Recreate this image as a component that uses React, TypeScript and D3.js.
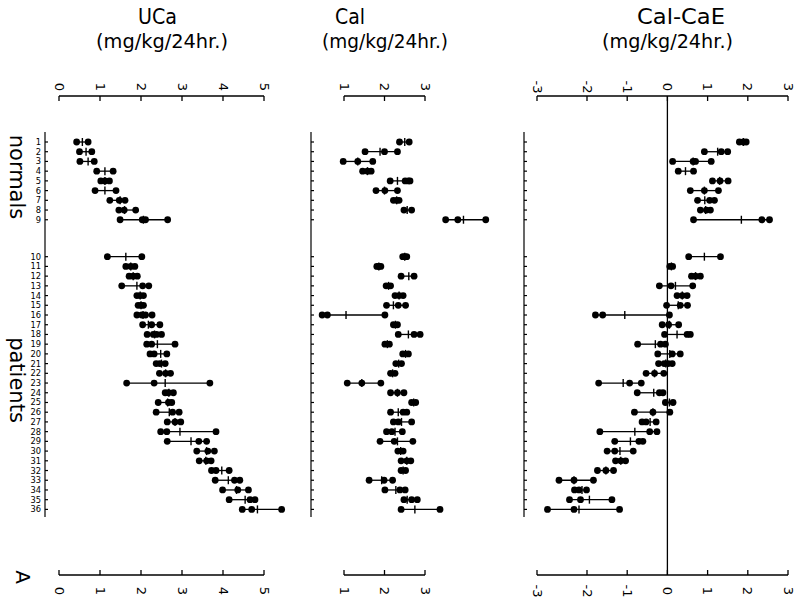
import React from "react";
import * as d3 from "d3";

const rowLabels = Array.from({ length: 36 }, (_, i) => String(i + 1));

const ucaPoints: number[][] = [
  [0.43, 0.71], [0.5, 0.8], [0.51, 0.86], [0.92, 1.32], [1.02, 1.12, 1.23],
  [0.88, 1.39], [1.24, 1.47, 1.61], [1.46, 1.59, 1.87], [1.49, 2.03, 2.11, 2.65],
  [1.18, 2.02], [1.63, 1.75, 1.85], [1.71, 1.81, 1.91], [1.53, 2.04, 2.19],
  [1.9, 1.98, 2.06], [1.93, 2.0, 2.06], [1.9, 2.02, 2.11, 2.27], [2.04, 2.26, 2.46],
  [2.15, 2.3, 2.38, 2.5], [2.14, 2.26, 2.83], [2.22, 2.32, 2.63], [2.37, 2.46, 2.59],
  [2.45, 2.6, 2.72], [1.65, 2.32, 3.68], [2.59, 2.67, 2.79], [2.42, 2.67, 2.75],
  [2.37, 2.77, 2.93], [2.64, 2.83, 2.97], [2.48, 2.63, 3.83], [2.64, 3.41, 3.6],
  [3.36, 3.63, 3.79], [3.42, 3.6, 3.71], [3.72, 3.83, 4.15], [3.81, 4.28, 4.41],
  [3.99, 4.36, 4.62], [4.15, 4.66, 4.78], [4.47, 4.7, 5.43],
];
const ucaMeans: number[] = [
  0.57, 0.66, 0.71, 1.12, 1.12, 1.12, 1.49, 1.6, 2.06,
  1.63, 1.75, 1.81, 1.9, 1.98, 2.0, 2.05, 2.18, 2.33, 2.4, 2.48, 2.5, 2.6, 2.59,
  2.68, 2.65, 2.69, 2.83, 2.95, 3.22, 3.6, 3.58, 3.97, 4.13, 4.33, 4.54, 4.84,
];

const calPoints: number[][] = [
  [2.37, 2.61], [1.52, 2.0, 2.32], [0.98, 1.34, 1.71], [1.46, 1.58, 1.67],
  [2.14, 2.51, 2.59, 2.63], [1.79, 2.01, 2.32], [2.22, 2.3, 2.36], [2.48, 2.67],
  [3.51, 3.81, 4.5], [2.45, 2.5, 2.55], [1.81, 1.86, 1.91], [2.41, 2.73],
  [2.04, 2.15], [2.26, 2.36, 2.46], [2.05, 2.34, 2.52], [0.46, 0.59, 2.01],
  [2.22, 2.32], [2.34, 2.73, 2.88], [2.01, 2.12], [2.45, 2.59], [2.28, 2.42],
  [2.15, 2.26], [1.08, 1.44, 1.91], [2.15, 2.32, 2.48], [2.67, 2.77],
  [2.15, 2.46, 2.55], [2.22, 2.34, 2.67], [2.05, 2.18, 2.44], [1.89, 2.24, 2.7],
  [2.33, 2.46], [2.41, 2.55, 2.65], [2.41, 2.52], [1.62, 1.99, 2.2],
  [2.01, 2.38, 2.51], [2.48, 2.67, 2.81], [2.41, 3.37],
];
const calMeans: number[] = [
  2.5, 1.89, 1.34, 1.58, 2.32, 2.0, 2.3, 2.56, 3.95,
  2.5, 1.86, 2.6, 2.1, 2.36, 2.22, 1.05, 2.27, 2.59, 2.07, 2.52, 2.35, 2.2, 1.44,
  2.32, 2.72, 2.34, 2.42, 2.26, 2.32, 2.4, 2.55, 2.46, 1.93, 2.28, 2.56, 2.75,
];

const diffPoints: number[][] = [
  [1.79, 1.89, 1.96], [0.92, 1.34, 1.5], [0.13, 0.64, 0.7, 1.09], [0.27, 0.65],
  [1.12, 1.31, 1.51], [0.57, 0.92, 1.27], [0.75, 1.05, 1.17], [0.82, 0.97, 1.07],
  [0.65, 2.35, 2.54], [0.53, 1.32], [0.06, 0.13], [0.6, 0.7, 0.82],
  [-0.2, 0.09, 0.63], [0.24, 0.37, 0.49], [-0.02, 0.32, 0.5], [-1.79, -1.61, 0.05],
  [-0.13, 0.03, 0.28], [-0.07, 0.49, 0.57], [-0.74, -0.17, -0.05], [-0.24, 0.12, 0.32],
  [-0.22, -0.08, 0.02, 0.12], [-0.53, -0.32, -0.09], [-1.71, -0.94, -0.65],
  [-0.75, -0.2, -0.11], [-0.05, 0.14], [-0.82, -0.36, 0.06], [-0.63, -0.53, -0.28],
  [-1.68, -0.44, -0.26], [-1.31, -0.71, -0.61], [-1.5, -1.31, -0.85],
  [-1.29, -1.16, -1.04], [-1.74, -1.53, -1.34], [-2.56, -2.26, -1.84],
  [-2.25, -2.16, -2.01], [-2.35, -2.13, -1.38], [-2.79, -2.26, -1.19],
];
const diffMeans: number[] = [
  1.89, 1.25, 0.64, 0.45, 1.3, 0.92, 0.93, 0.95, 1.84,
  0.92, 0.1, 0.7, 0.2, 0.37, 0.27, -1.06, 0.05, 0.24, -0.3, 0.06, -0.04, -0.32, -1.1,
  -0.34, 0.05, -0.36, -0.43, -0.81, -0.92, -1.18, -1.16, -1.53, -2.26, -2.1, -1.94, -2.16,
];

const ucaTicks = [0, 1, 2, 3, 4, 5];
const calTicks = [1, 2, 3];
const diffTicks = [-3, -2, -1, 0, 1, 2, 3];

const FONT = "'DejaVu Sans', 'Noto Sans', sans-serif";

// row position with gap between normals and patients
const rowPos = (i: number) => i + (i >= 9 ? 2.8 : 0);
const y = d3.scaleLinear().domain([0, 37.8]).range([142, 509.4]);

const xUca = d3.scaleLinear().domain([0, 5]).range([59, 264]);
const xCal = d3.scaleLinear().domain([1, 3]).range([344, 425]);
const xDiff = d3.scaleLinear().domain([-3, -2, 3]).range([537, 587, 788]);

const AXIS_TOP = 96;
const AXIS_BOTTOM = 575;

function Axis({ scale, ticks, top }: { scale: any; ticks: number[]; top: boolean }) {
  const ay = top ? AXIS_TOP : AXIS_BOTTOM;
  const dir = top ? 1 : -1;
  const ly = top ? 87 : 591;
  return (
    <g>
      <line x1={scale(ticks[0])} x2={scale(ticks[ticks.length - 1])} y1={ay} y2={ay} stroke="#000" strokeWidth={1.3} />
      {ticks.map((t) => (
        <g key={t}>
          <line x1={scale(t)} x2={scale(t)} y1={ay} y2={ay + dir * 5} stroke="#000" strokeWidth={1.3} />
          <text
            transform={`translate(${scale(t)},${ly}) rotate(90)`}
            textAnchor="middle"
            dominantBaseline="central"
            fontSize={13}
            fontFamily={FONT}
            fill="#000"
          >
            {String(t)}
          </text>
        </g>
      ))}
    </g>
  );
}

function RowAxis({ x }: { x: number }) {
  return (
    <g>
      <line x1={x} x2={x} y1={132} y2={517} stroke="#000" strokeWidth={1.2} />
      {rowLabels.map((_, i) => (
        <line key={i} x1={x} x2={x + 3} y1={y(rowPos(i))} y2={y(rowPos(i))} stroke="#000" strokeWidth={1.2} />
      ))}
    </g>
  );
}

function Series({ scale, points, means }: { scale: any; points: number[][]; means: number[] }) {
  return (
    <g>
      {points.map((pts, i) => {
        const yy = y(rowPos(i));
        const lo = d3.min(pts) as number;
        const hi = d3.max(pts) as number;
        return (
          <g key={i}>
            <line x1={scale(lo)} x2={scale(hi)} y1={yy} y2={yy} stroke="#000" strokeWidth={1.3} />
            <line x1={scale(means[i])} x2={scale(means[i])} y1={yy - 4} y2={yy + 4} stroke="#000" strokeWidth={1.4} />
            {pts.map((p, j) => (
              <circle key={j} cx={scale(p)} cy={yy} r={3.4} fill="#000" />
            ))}
          </g>
        );
      })}
    </g>
  );
}

function Title({ x, y: ty, text, len, size }: { x: number; y: number; text: string; len: number; size: number }) {
  return (
    <text x={x} y={ty} fontSize={size} fontFamily={FONT} textLength={len} lengthAdjust="spacingAndGlyphs" fill="#000">
      {text}
    </text>
  );
}

export default function App() {
  return (
    <>
      <style>{`body{margin:0;background:#fff}`}</style>
      <svg width={800} height={609} viewBox="0 0 800 609" style={{ display: "block", background: "#fff" }}>
        <Title x={138} y={24} text="UCa" len={39} size={22} />
        <Title x={96} y={48} text="(mg/kg/24hr.)" len={132} size={20} />
        <Title x={335} y={24} text="Cal" len={30} size={22} />
        <Title x={322} y={48} text="(mg/kg/24hr.)" len={126} size={20} />
        <Title x={637} y={24} text="Cal-CaE" len={88} size={22} />
        <Title x={602} y={48} text="(mg/kg/24hr.)" len={131} size={20} />

        <Axis scale={xUca} ticks={ucaTicks} top />
        <Axis scale={xUca} ticks={ucaTicks} top={false} />
        <Axis scale={xCal} ticks={calTicks} top />
        <Axis scale={xCal} ticks={calTicks} top={false} />
        <Axis scale={xDiff} ticks={diffTicks} top />
        <Axis scale={xDiff} ticks={diffTicks} top={false} />

        <line x1={xDiff(0)} x2={xDiff(0)} y1={AXIS_TOP} y2={AXIS_BOTTOM} stroke="#000" strokeWidth={1.3} />

        <RowAxis x={45} />
        <RowAxis x={311} />
        <RowAxis x={524} />

        {rowLabels.map((l, i) => (
          <text key={l} x={41} y={y(rowPos(i))} textAnchor="end" dominantBaseline="central" fontSize={8.3} fontFamily={FONT} fill="#000">
            {l}
          </text>
        ))}

        <text transform={`translate(17,177) rotate(90)`} textAnchor="middle" dominantBaseline="central" fontSize={21} fontFamily={FONT} fill="#000">
          normals
        </text>
        <text transform={`translate(17,380) rotate(90)`} textAnchor="middle" dominantBaseline="central" fontSize={21} fontFamily={FONT} fill="#000">
          patients
        </text>
        <text transform={`translate(23,577) rotate(90)`} textAnchor="middle" dominantBaseline="central" fontSize={20} fontFamily={FONT} fill="#000">
          A
        </text>

        <Series scale={xUca} points={ucaPoints} means={ucaMeans} />
        <Series scale={xCal} points={calPoints} means={calMeans} />
        <Series scale={xDiff} points={diffPoints} means={diffMeans} />
      </svg>
    </>
  );
}
